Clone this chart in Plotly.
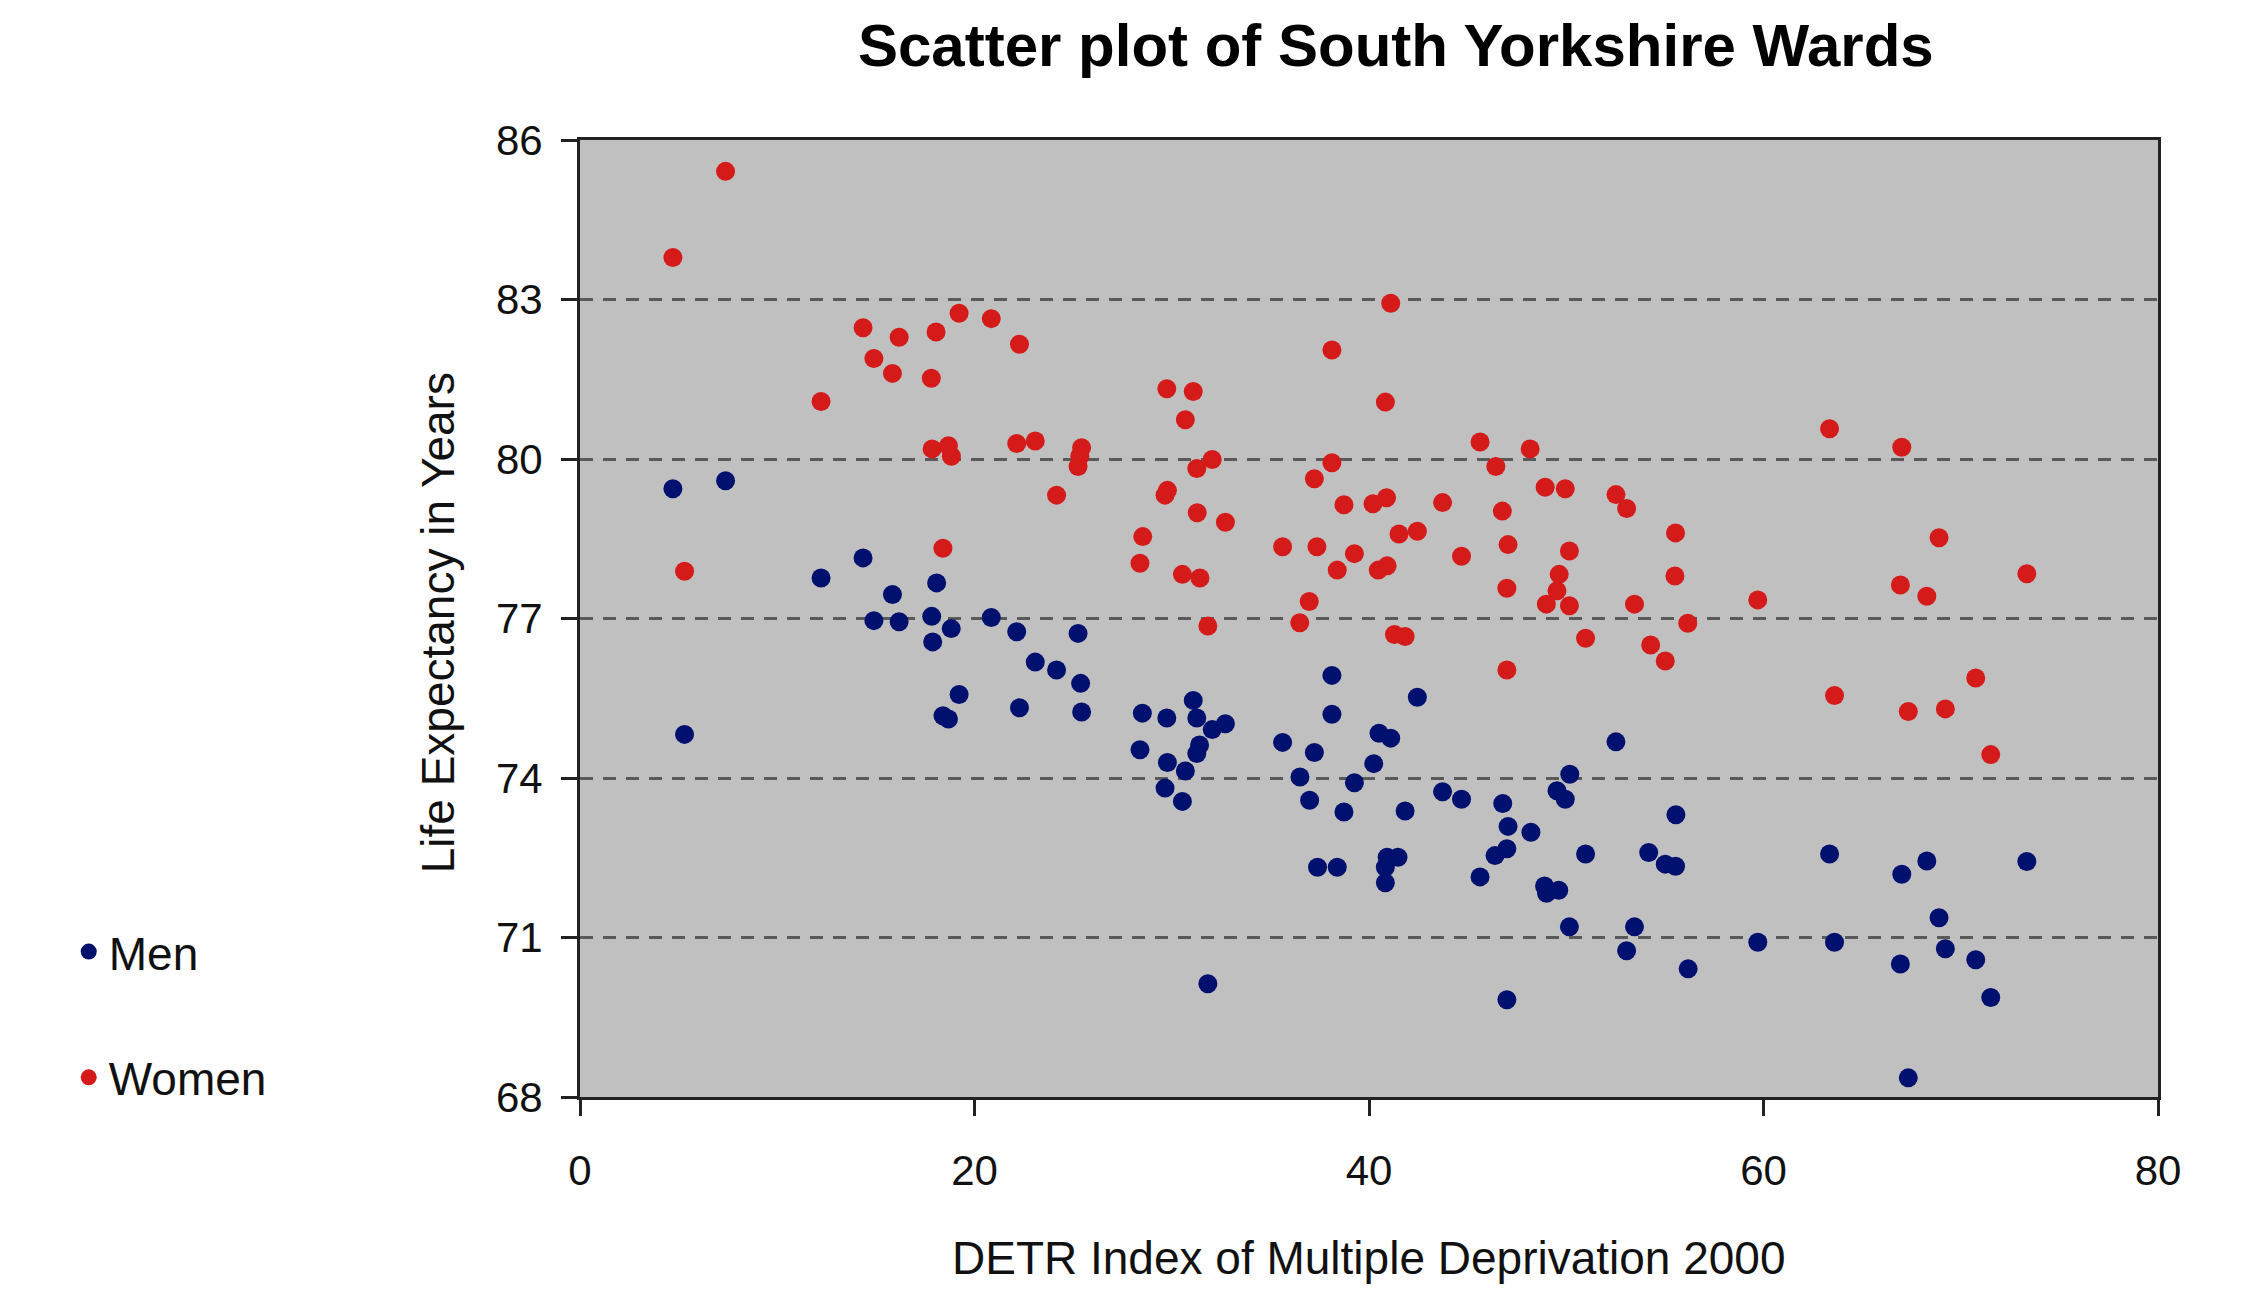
import plotly.graph_objects as go

# Men: (DETR index, life expectancy)
men_x = [4.71, 7.38, 5.3, 12.22, 14.35, 14.9, 15.84, 16.18, 17.83, 18.08, 17.88, 18.82, 18.4, 18.68,
         19.22, 20.85, 22.14, 22.28, 23.08, 24.16, 25.25, 25.38, 25.43,
         28.51, 28.39, 29.75, 29.78, 29.66, 30.69, 30.54, 31.09, 31.27, 31.41, 31.27, 31.83, 32.05, 32.72,
         35.62, 36.5, 36.99, 37.23, 37.39, 38.12, 38.12, 38.39, 38.73, 39.26, 40.24, 40.51, 40.83, 40.83,
         40.92, 41.1, 41.47, 41.83, 42.45, 43.73, 44.69, 45.63, 46.39, 46.78, 46.99, 46.99, 47.05, 48.21,
         48.9, 49.0, 49.53, 49.62, 49.95, 50.16, 50.18, 50.98, 52.52, 53.06, 53.46, 54.18, 55.02, 55.54,
         55.56, 56.18, 59.71, 63.35, 63.6, 66.94, 67.01, 67.34, 68.28, 68.9, 69.22, 70.76, 71.52, 73.35]
men_y = [79.44, 79.59, 74.82, 77.76, 78.14, 76.96, 77.45, 76.94, 77.04, 77.67, 76.56, 76.81, 75.17, 75.11,
         75.57, 77.02, 76.75, 75.32, 76.18, 76.03, 76.72, 75.78, 75.24,
         75.22, 74.53, 75.13, 74.29, 73.81, 74.13, 73.56, 75.46, 75.13, 74.62, 74.46, 70.13, 74.91, 75.02,
         74.67, 74.02, 73.58, 74.48, 72.32, 75.93, 75.2, 72.32, 73.36, 73.91, 74.27, 74.84, 72.32, 72.03,
         72.51, 74.75, 72.51, 73.38, 75.52, 73.74, 73.6, 72.14, 72.54, 73.52, 72.67, 69.83, 73.09, 72.98,
         71.97, 71.83, 73.76, 71.89, 73.6, 71.2, 74.07, 72.57, 74.68, 70.75, 71.2, 72.6, 72.38, 72.34,
         73.31, 70.41, 70.91, 72.57, 70.91, 70.5, 72.19, 68.36, 72.44, 71.37, 70.79, 70.58, 69.87, 72.43]

# Women: (DETR index, life expectancy)
women_x = [4.71, 7.38, 5.3, 12.22, 14.35, 14.9, 15.84, 16.18, 17.81, 18.05, 17.85, 18.68, 18.83, 18.4,
           19.22, 20.85, 22.28, 22.14, 23.08, 24.16, 25.43, 25.34, 25.25,
           28.53, 28.39, 29.75, 29.78, 29.66, 30.69, 30.54, 31.09, 31.27, 31.29, 31.43, 31.83, 32.05, 32.72,
           35.62, 36.49, 36.97, 37.23, 37.36, 38.12, 38.12, 38.39, 38.73, 39.26, 40.2, 40.47, 40.83, 40.89,
           40.92, 41.1, 41.29, 41.52, 41.83, 42.45, 43.73, 44.69, 45.63, 46.43, 46.76, 46.99, 46.99, 47.05,
           48.17, 48.93, 48.99, 49.53, 49.64, 49.95, 50.16, 50.16, 50.98, 52.52, 53.06, 53.46, 54.28, 55.02,
           55.51, 55.54, 56.16, 59.71, 63.35, 63.6, 66.94, 67.01, 67.34, 68.28, 68.9, 69.22, 70.76, 71.52,
           73.35]
women_y = [83.79, 85.41, 77.89, 81.08, 82.47, 81.89, 81.61, 82.29, 81.52, 82.39, 80.19, 80.25, 80.05, 78.32,
           82.74, 82.64, 82.16, 80.29, 80.34, 79.32, 80.21, 80.05, 79.86,
           78.54, 78.04, 81.32, 79.41, 79.32, 80.74, 77.83, 81.27, 79.82, 78.99, 77.76, 76.86, 79.99, 78.81,
           78.35, 76.92, 77.32, 79.63, 78.35, 82.05, 79.93, 77.91, 79.14, 78.22, 79.16, 77.91, 81.07, 79.27,
           77.99, 82.93, 76.7, 78.59, 76.66, 78.64, 79.18, 78.17, 80.32, 79.86, 79.02, 77.57, 76.03, 78.39,
           80.19, 79.47, 77.27, 77.52, 77.83, 79.44, 78.27, 77.24, 76.63, 79.33, 79.07, 77.27, 76.5, 76.2,
           77.8, 78.61, 76.91, 77.35, 80.57, 75.55, 77.63, 80.22, 75.25, 77.42, 78.52, 75.3, 75.88, 74.44,
           77.84]

x_ticks = [0, 20, 40, 60, 80]
y_ticks = [68, 71, 74, 77, 80, 83, 86]

FONT = "Liberation Sans, Arial, sans-serif"

fig = go.Figure()
fig.add_trace(go.Scatter(x=men_x, y=men_y, mode="markers", name="Men", legendgroup="men",
                         marker=dict(color="#00106E", size=19)))
fig.add_trace(go.Scatter(x=women_x, y=women_y, mode="markers", name="Women", legendgroup="women",
                         marker=dict(color="#D51A1A", size=19)))

axis_common = dict(showline=True, linecolor="#222222", linewidth=3, mirror=True,
                   ticks="outside", ticklen=16, tickwidth=3, tickcolor="#222222",
                   zeroline=False, tickfont=dict(family=FONT, size=42, color="#111111"))

fig.update_xaxes(range=[0, 80], tickvals=x_ticks, showgrid=False, ticklabelstandoff=19, **axis_common)
fig.update_yaxes(range=[68, 86], tickvals=y_ticks, showgrid=True, gridcolor="#5a5a5a", gridwidth=2.5,
                 griddash="13px,10px", ticklabelstandoff=10, **axis_common)

fig.update_layout(
    width=2263, height=1293,
    margin=dict(l=572, r=113, t=132, b=204),
    paper_bgcolor="white", plot_bgcolor="#C0C0C0",
    font=dict(family=FONT, color="#111111"),
    title=dict(text="<b>Scatter plot of South Yorkshire Wards</b>", x=0.517, xref="paper",
               y=1 - 37 / 1293, yref="container", yanchor="middle", xanchor="center",
               font=dict(family=FONT, size=60, color="black")),
    legend=dict(x=-0.324, xanchor="left", y=0.19, yanchor="top", font=dict(family=FONT, size=46),
                tracegroupgap=63, bgcolor="rgba(0,0,0,0)"),
    annotations=[
        dict(text="Life Expectancy in Years", xref="paper", yref="paper", x=-0.09, y=0.496,
             textangle=-90, showarrow=False, font=dict(family=FONT, size=46), xanchor="center", yanchor="middle"),
        dict(text="DETR Index of Multiple Deprivation 2000", xref="paper", yref="paper", x=0.5, y=-0.168,
             showarrow=False, font=dict(family=FONT, size=46), xanchor="center", yanchor="middle"),
    ],
)

fig.write_html("out.html")
